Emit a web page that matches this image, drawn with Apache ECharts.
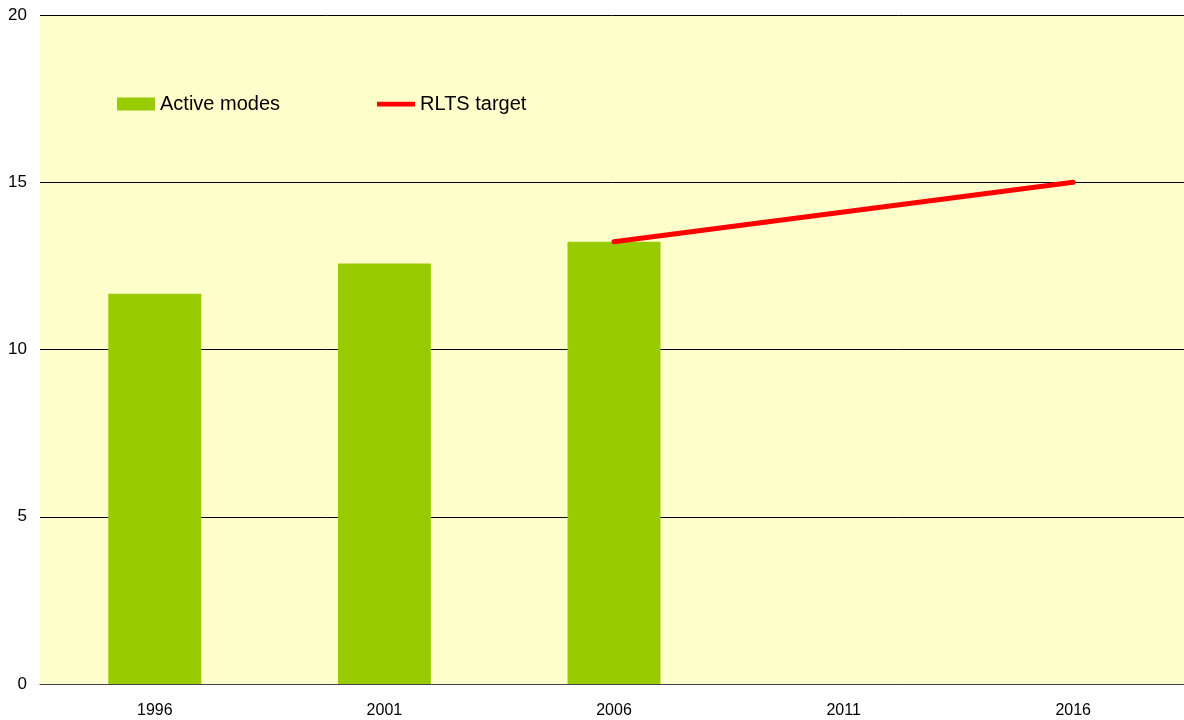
<!DOCTYPE html>
<html><head><meta charset="utf-8">
<script src="https://cdn.jsdelivr.net/npm/echarts@6/dist/echarts.min.js"></script>
<style>html,body{margin:0;padding:0;background:#fff}#c{width:1184px;height:720px}</style>
</head><body><div id="c"></div>
<script>
const categories = ['1996', '2001', '2006', '2011', '2016'];
const activeModes = [11.67, 12.57, 13.22, null, null];
const rltsTarget = [null, null, 13.22, null, 15];
const yTicks = [0, 5, 10, 15, 20];

const chart = echarts.init(document.getElementById('c'));
chart.setOption({
  animation: false,
  textStyle: { fontFamily: 'Liberation Sans, Arial, sans-serif' },
  grid: { left: 40, width: 1148, top: 15, bottom: 36, outerBoundsMode: 'none', containLabel: false,
          backgroundColor: '#FFFFCC', show: true, borderWidth: 0 },
  legend: {
    left: 112, top: 89, itemGap: 97, itemWidth: 38, itemHeight: 13,
    textStyle: { fontSize: 20, color: '#000', fontFamily: 'Liberation Sans, Arial, sans-serif' },
    data: [
      { name: 'Active modes', icon: 'rect' },
      { name: 'RLTS target', icon: 'path://M0,0 L40,0 L40,5 L0,5 Z', itemStyle: { color: '#FF0000' } }
    ]
  },
  xAxis: {
    type: 'category', data: categories, boundaryGap: true,
    axisLine: { lineStyle: { color: '#444', width: 1 } },
    axisTick: { show: false },
    axisLabel: { fontSize: 16, color: '#000', margin: 19 }
  },
  yAxis: {
    type: 'value', min: 0, max: 20, interval: 5,
    axisLine: { show: false }, axisTick: { show: false },
    axisLabel: { fontSize: 17, color: '#000', margin: 13, formatter: v => yTicks.includes(v) ? String(v) : '' },
    splitLine: { lineStyle: { color: '#000', width: 1 } }
  },
  series: [
    { name: 'Active modes', type: 'bar', data: activeModes, barWidth: 93, itemStyle: { color: '#99CC00' } },
    { name: 'RLTS target', type: 'line', data: rltsTarget, connectNulls: true, symbol: 'none',
      lineStyle: { color: '#FF0000', width: 5, cap: 'round' }, itemStyle: { color: '#FF0000' } }
  ]
});
</script></body></html>
